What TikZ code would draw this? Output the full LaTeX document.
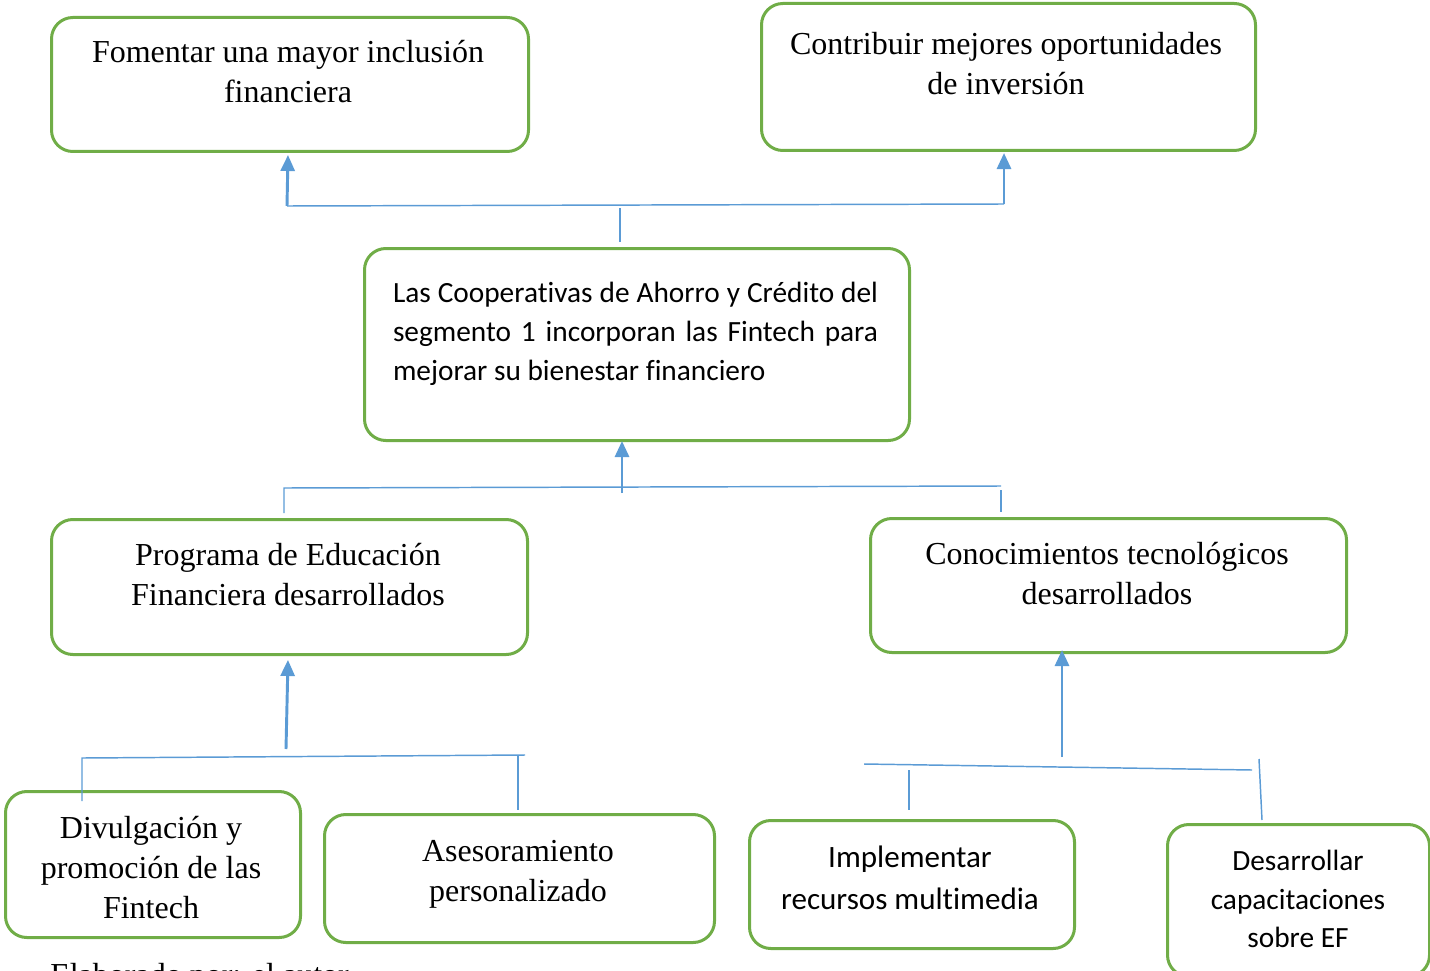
\documentclass[tikz,border=0pt]{standalone}
\usepackage{fontspec}
\setmainfont{Liberation Serif}
\newfontfamily\calib[Ligatures=NoCommon]{Carlito}
\usetikzlibrary{arrows.meta}
\definecolor{boxgreen}{HTML}{70AD47}
\definecolor{linkblue}{HTML}{5B9BD5}
\tikzset{
  x=0.75pt, y=-0.75pt,
  box/.style={draw=boxgreen, line width=2.25pt, rounded corners=16pt, anchor=north west, inner sep=0pt},
  serif/.style={align=center, font=\fontsize{24}{30}\selectfont, inner sep=0pt},
  sans/.style={align=center, font=\calib\fontsize{22}{29.25}\selectfont, inner sep=0pt},
  conn/.style={draw=linkblue, line width=1.1pt},
  arr/.style={draw=linkblue, line width=2.2pt, -{Triangle[width=10.5pt,length=12pt]}},
}
\begin{document}
\begin{tikzpicture}
\useasboundingbox (0,0) rectangle (1430,970);
% boxes
\node[box, minimum width=357.75pt, minimum height=100.5pt] (b1) at (50,16) {};
\node[box, minimum width=370.5pt, minimum height=110.25pt] (b2) at (760,2) {};
\node[box, minimum width=408.75pt, minimum height=144pt] (b3) at (363,247) {};
\node[box, minimum width=357pt, minimum height=101.25pt] (b4) at (50,518) {};
\node[box, minimum width=357pt, minimum height=100.5pt] (b5) at (869,517) {};
\node[box, minimum width=221.25pt, minimum height=109.5pt] (b6) at (4,790) {};
\node[box, minimum width=292.5pt, minimum height=96pt] (b7) at (323,813) {};
\node[box, minimum width=243.75pt, minimum height=96pt] (b8) at (748,819) {};
\node[box, minimum width=196.5pt, minimum height=114pt] (b9) at (1166,823) {};
% texts
\node[serif] (t1) at (288,72) {Fomentar una mayor inclusión\\financiera};
\node[serif] (t2) at (1006,64) {Contribuir mejores oportunidades\\de inversión};
\node[sans, text width=363.75pt, align=justify] (t3) at (635.5,334) {Las Cooperativas de Ahorro y Crédito del segmento 1 incorporan las Fintech para mejorar su bienestar financiero};
\node[serif] (t4) at (288,575) {Programa de Educación\\Financiera desarrollados};
\node[serif] (t5) at (1107,573.5) {Conocimientos tecnológicos\\desarrollados};
\node[serif] (t6) at (151,867.5) {Divulgación y\\promoción de las\\Fintech};
\node[serif] (t7) at (518,874) {Asesoramiento\\personalizado};
\node[sans, font=\calib\fontsize{23.3}{31.5}\selectfont] (t8) at (910,878) {Implementar\\recursos multimedia};
\node[sans, font=\calib\fontsize{22}{28.8}\selectfont] (t9) at (1298,899) {Desarrollar\\capacitaciones\\sobre EF};
\node[anchor=base west, font=\fontsize{24}{30}\selectfont, inner sep=0pt] (src) at (50,985) {Elaborado por: el autor};
% top connectors
\coordinate (a1) at (287,206); \coordinate (a2) at (1004,204);
\coordinate (a1t) at (288,155); \coordinate (a2t) at (1004,153);
\coordinate (m1) at (620,208); \coordinate (m1b) at (620,242);
\draw[conn] (a1) -- (a2);
\draw[conn] (m1) -- (m1b);
\draw[arr] (a1) -- (a1t);
\draw[arr] (a2) -- (a2t);
% middle connectors
\coordinate (c1) at (284,488); \coordinate (c2) at (1001,486);
\coordinate (c1b) at (284,513); \coordinate (c2a) at (1001,490); \coordinate (c2b) at (1001,512);
\coordinate (cm) at (622,493); \coordinate (cmt) at (622,441);
\draw[conn] (c1b) -- (c1) -- (c2);
\draw[conn] (c2a) -- (c2b);
\draw[arr] (cm) -- (cmt);
% bottom left connectors
\coordinate (d1) at (82,758); \coordinate (d2) at (525,755);
\coordinate (d1b) at (82,801); \coordinate (d3) at (518,755); \coordinate (d3b) at (518,810);
\coordinate (dm) at (286,749); \coordinate (dmt) at (288,660);
\draw[conn] (d1b) -- (d1) -- (d2);
\draw[conn] (d3) -- (d3b);
\draw[arr] (dm) -- (dmt);
% bottom right connectors
\coordinate (e1) at (864,764); \coordinate (e2) at (1252,770);
\coordinate (e3) at (909,770); \coordinate (e3b) at (909,810);
\coordinate (e4) at (1259,759); \coordinate (e4b) at (1262,820);
\coordinate (em) at (1062,757); \coordinate (emt) at (1062,650);
\draw[conn] (e1) -- (e2);
\draw[conn] (e3) -- (e3b);
\draw[conn] (e4) -- (e4b);
\draw[arr] (em) -- (emt);
\end{tikzpicture}
\end{document}
